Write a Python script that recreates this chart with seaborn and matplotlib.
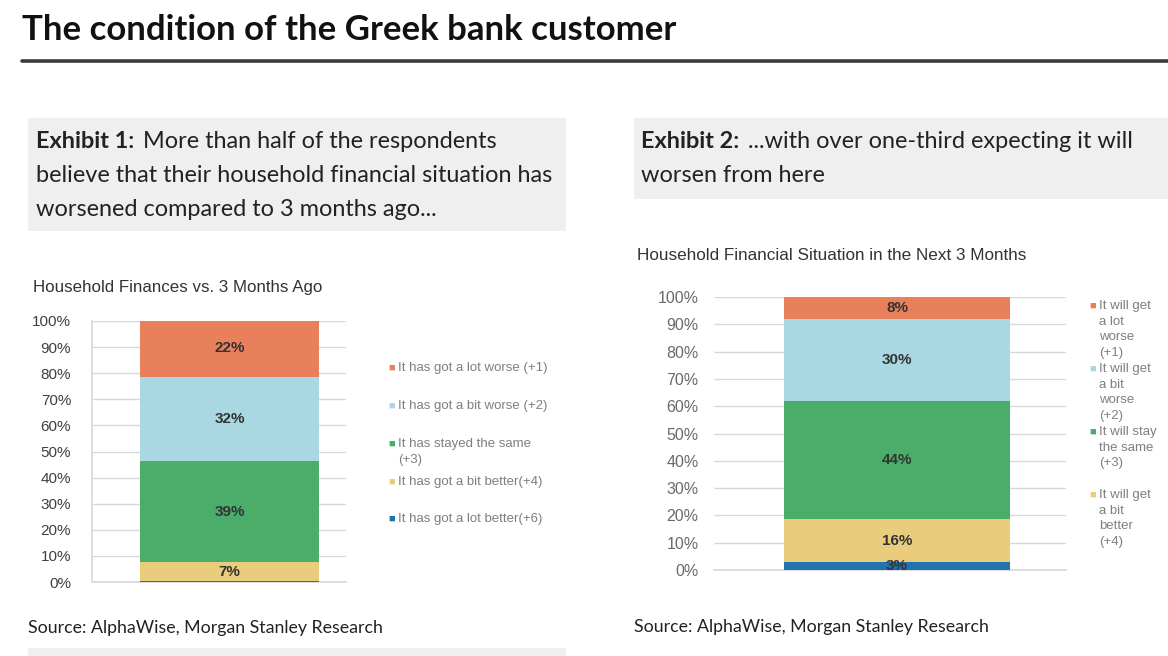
import matplotlib
matplotlib.use("Agg")
import matplotlib.pyplot as plt
import matplotlib.patches as mpatches
import matplotlib.ticker as mtick
import pandas as pd
import seaborn as sns

# Data
past_labels = [
    "It has got a lot better(+6)",
    "It has got a bit better(+4)",
    "It has stayed the same\n(+3)",
    "It has got a bit worse (+2)",
    "It has got a lot worse (+1)",
]
past_values = [0.5, 7, 39, 32, 22]
past_text = ["", "7%", "39%", "32%", "22%"]

next_labels = [
    "It will get\na lot better",
    "It will get\na bit\nbetter\n(+4)",
    "It will stay\nthe same\n(+3)",
    "It will get\na bit\nworse\n(+2)",
    "It will get\na lot\nworse\n(+1)",
]
next_values = [3, 15.5, 43.5, 30, 8]
next_text = ["3%", "16%", "44%", "30%", "8%"]

colors = ["#2173b0", "#eacd7c", "#4bad6a", "#a9d7e2", "#e8805c"]

W, H = 1168, 656


def px(x, y):
    # pixel position (top-left origin) -> figure fraction
    return x / W, 1 - y / H


sns.set_theme(style="white")
plt.rcParams["font.family"] = ["Liberation Sans", "DejaVu Sans"]

fig = plt.figure(figsize=(W / 100, H / 100), dpi=100)
fig.patch.set_facecolor("white")
renderer = fig.canvas.get_renderer()

page_family = ["Lato", "DejaVu Sans"]

# Page header
fig.text(*px(22, 30), "The condition of the Greek bank customer", fontsize=25,
         fontweight="bold", family=page_family, va="center",
         ha="left", color="#111111")
fig.add_artist(plt.Line2D([22 / W, 1.0], [1 - 61 / H, 1 - 61 / H], color="#3a3a3a",
                          lw=2.6, transform=fig.transFigure))


# Exhibit boxes
def gray_box(x0, y0, x1, y1):
    fig.add_artist(mpatches.Rectangle(px(x0, y1), (x1 - x0) / W, (y1 - y0) / H,
                                      transform=fig.transFigure, facecolor="#efefef",
                                      edgecolor="none", zorder=0))


gray_box(28, 118, 566, 231)
gray_box(634, 118, 1168, 199)
gray_box(28, 648, 566, 656)

ex_font = dict(fontsize=16.9, family=page_family, va="center",
               ha="left", color="#222222")


def exhibit_line(x, y, head, rest):
    t = fig.text(*px(x, y), head, fontweight="bold", **ex_font)
    x_end = t.get_window_extent(renderer).x1
    fig.text(*px(x_end + 9, y), rest, **ex_font)


exhibit_line(36, 142, "Exhibit 1:", "More than half of the respondents")
fig.text(*px(36, 175), "believe that their household financial situation has", **ex_font)
fig.text(*px(36, 209), "worsened compared to 3 months ago...", **ex_font)
exhibit_line(641, 142, "Exhibit 2:", "...with over one-third expecting it will")
fig.text(*px(641, 175), "worsen from here", **ex_font)

src_font = dict(fontsize=12.8, family=page_family, va="center",
                ha="left", color="#222222")
fig.text(*px(28, 628), "Source: AlphaWise, Morgan Stanley Research", **src_font)
fig.text(*px(634, 627), "Source: AlphaWise, Morgan Stanley Research", **src_font)

# Chart titles
fig.text(*px(33, 288), "Household Finances vs. 3 Months Ago", fontsize=12.2,
         va="center", ha="left", color="#333333")
fig.text(*px(637, 256), "Household Financial Situation in the Next 3 Months", fontsize=12.3,
         va="center", ha="left", color="#333333")


def stacked(ax, values, texts, xlim, tick_color):
    df = pd.DataFrame({"cat": ["all"] * len(values), "value": values})
    bottom = 0
    for i, v in enumerate(values):
        sns.barplot(data=df.iloc[[i]], x="cat", y="value", ax=ax, color=colors[i],
                    width=0.7, bottom=bottom, saturation=1, linewidth=0, zorder=3)
        if texts[i]:
            ax.text(0, bottom + v / 2, texts[i], ha="center", va="center",
                    fontsize=11, fontweight="bold", color="#333333", zorder=4)
        bottom += v
    ax.set_ylim(0, 100)
    ax.set_xlim(*xlim)
    ax.set_yticks(range(0, 101, 10))
    ax.yaxis.set_major_formatter(mtick.PercentFormatter(decimals=0))
    ax.grid(axis="y", color="#d9d9d9", lw=1, zorder=0)
    ax.set_xticks([])
    ax.set_xlabel("")
    ax.set_ylabel("")
    for s in ["top", "right"]:
        ax.spines[s].set_visible(False)
    ax.spines["bottom"].set_color("#d9d9d9")
    ax.tick_params(axis="y", length=0, pad=15, labelsize=11, labelcolor=tick_color)


ax1 = fig.add_axes([92 / W, 1 - 582 / H, 254 / W, 261 / H])
stacked(ax1, past_values, past_text, (-0.538, 0.455), "#404040")
ax1.spines["left"].set_color("#d9d9d9")

ax2 = fig.add_axes([714 / W, 1 - 570 / H, 352 / W, 273 / H])
stacked(ax2, next_values, next_text, (-0.567, 0.523), "#6a6a6a")
ax2.spines["left"].set_visible(False)
ax2.tick_params(axis="y", pad=11, labelsize=11.5)

# Legends drawn by hand: marker on the first line of each entry
leg_font = dict(fontsize=9.5, va="center", ha="left", color="#7f7f7f")
past_leg_y = [519, 482, 444, 406, 368]
for i, lab in enumerate(past_labels):
    y = past_leg_y[i]
    fig.text(*px(388, y), "■", fontsize=8, color=colors[i], va="center", ha="left")
    for k, line in enumerate(lab.split("\n")):
        fig.text(*px(398, y + k * 16), line, **leg_font)

next_leg_y = [None, 495, 432, 369, 306]
for i, lab in enumerate(next_labels):
    y = next_leg_y[i]
    if y is None:
        continue
    fig.text(*px(1089, y), "■", fontsize=8, color=colors[i], va="center", ha="left")
    for k, line in enumerate(lab.split("\n")):
        fig.text(*px(1099, y + k * 15.7), line, **leg_font)

fig.savefig("out.png", dpi=100)
